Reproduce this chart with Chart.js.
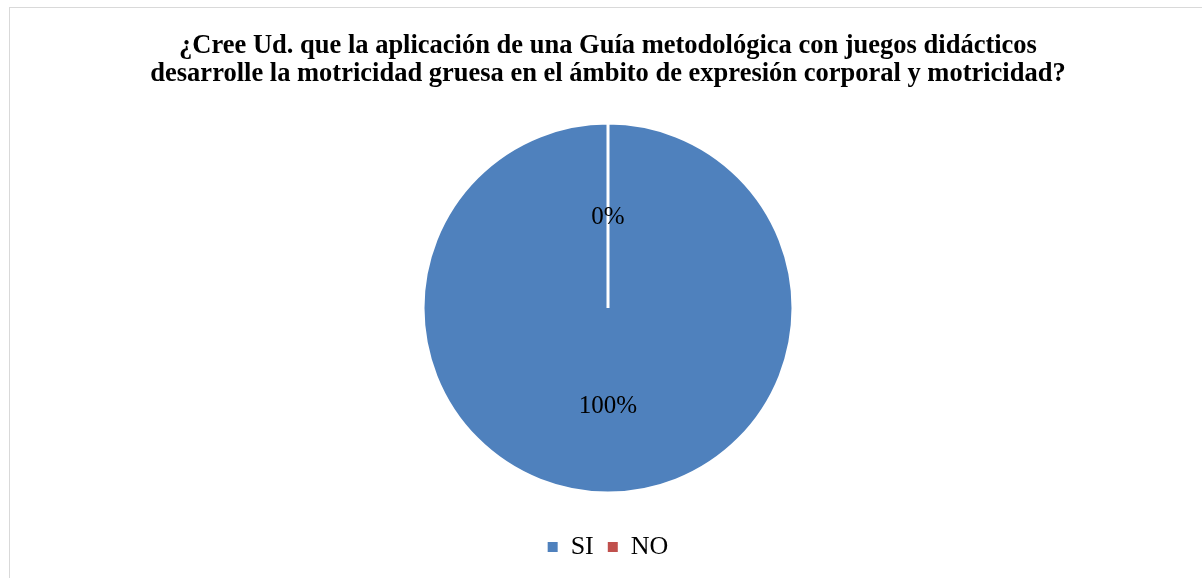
<!DOCTYPE html>
<html>
<head>
<meta charset="utf-8">
<script src="https://cdn.jsdelivr.net/npm/chart.js@4/dist/chart.umd.min.js"></script>
<style>
  html, body { margin: 0; padding: 0; background: #fff; }
  #wrap { position: absolute; left: 9px; top: 7px; width: 1192px; height: 570px;
          border-left: 1px solid #d9d9d9; border-top: 1px solid #d9d9d9; }
  canvas { display: block; }
</style>
</head>
<body>
<div id="wrap"><canvas id="c" width="1192" height="570"></canvas></div>
<script>
const titleLines = [
  "¿Cree Ud. que la aplicación de una Guía metodológica con juegos didácticos",
  "desarrolle la motricidad gruesa en el ámbito de expresión corporal y motricidad?"
];
const categories = ["SI", "NO"];
const values = [100, 0];
const colors = ["#4F81BD", "#C0504D"];

const FONT = "'Liberation Serif', 'Times New Roman', serif";

const pieLabels = {
  id: 'pieLabels',
  afterDatasetsDraw(chart) {
    const ctx = chart.ctx;
    const meta = chart.getDatasetMeta(0);
    const data = chart.data.datasets[0].data;
    const total = data.reduce((a, b) => a + b, 0);
    ctx.save();
    ctx.font = "25px " + FONT;
    ctx.fillStyle = "#000";
    ctx.textAlign = "center";
    ctx.textBaseline = "middle";
    meta.data.forEach((arc, i) => {
      const p = arc.getProps(['x', 'y', 'startAngle', 'endAngle', 'outerRadius'], true);
      const a = (p.startAngle + p.endAngle) / 2;
      const r = p.outerRadius * 0.51;
      const pct = Math.round(data[i] / total * 100) + "%";
      ctx.fillText(pct, p.x + Math.cos(a) * r, p.y + Math.sin(a) * r + 4);
    });
    ctx.restore();
  }
};

new Chart(document.getElementById('c'), {
  type: 'pie',
  data: {
    labels: categories,
    datasets: [{
      data: values,
      backgroundColor: colors,
      borderColor: "#ffffff",
      borderWidth: 3,
      radius: 185
    }]
  },
  options: {
    responsive: false,
    animation: false,
    layout: { padding: { left: 4, right: 0, top: 0, bottom: 8 } },
    plugins: {
      title: {
        display: true,
        text: titleLines,
        color: "#000",
        font: { family: FONT, size: 26.5, weight: 'bold', lineHeight: 1.06 },
        padding: { top: 24, bottom: 8 }
      },
      legend: {
        position: 'bottom',
        labels: {
          color: "#000",
          font: { family: FONT, size: 26 },
          boxWidth: 10,
          boxHeight: 10,
          padding: 14,
          generateLabels(chart) {
            const items = Chart.overrides.pie.plugins.legend.labels.generateLabels(chart);
            items.forEach(it => { it.strokeStyle = it.fillStyle; it.lineWidth = 0; });
            return items;
          }
        }
      },
      tooltip: { enabled: false }
    }
  },
  plugins: [pieLabels]
});
</script>
</body>
</html>
